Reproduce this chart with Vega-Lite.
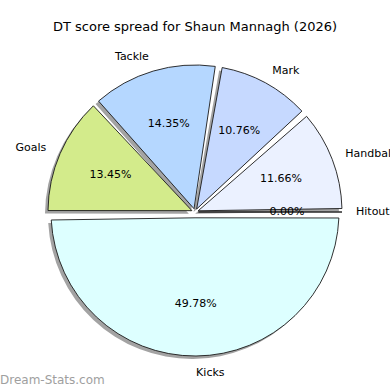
{
  "$schema": "https://vega.github.io/schema/vega-lite/v6.json",
  "autosize": "none",
  "width": 390,
  "height": 356,
  "padding": {"top": 34, "left": 0, "right": 0, "bottom": 0},
  "background": "white",
  "view": {"stroke": null},
  "title": {
    "text": "DT score spread for Shaun Mannagh (2026)",
    "font": "DejaVu Sans",
    "fontSize": 13,
    "fontWeight": "normal",
    "color": "black",
    "anchor": "middle",
    "baseline": "alphabetic",
    "offset": -10
  },
  "data": {
    "values": [
      {"idx": 0, "category": "Hitout", "value": 0.0, "pct": "0.00%"},
      {"idx": 1, "category": "Handball", "value": 11.66, "pct": "11.66%"},
      {"idx": 2, "category": "Mark", "value": 10.76, "pct": "10.76%"},
      {"idx": 3, "category": "Tackle", "value": 14.35, "pct": "14.35%"},
      {"idx": 4, "category": "Goals", "value": 13.45, "pct": "13.45%"},
      {"idx": 5, "category": "Kicks", "value": 49.78, "pct": "49.78%"}
    ]
  },
  "layer": [
    {
      "encoding": {
        "theta": {"field": "value", "type": "quantitative", "stack": true, "scale": {"range": [1.5708, -4.7124]}},
        "order": {"field": "idx", "type": "quantitative"},
        "detail": {"field": "category", "type": "nominal"}
      },
      "layer": [
        {
          "mark": {"type": "arc", "radius": 147, "innerRadius": 3.4, "padAngle": 0.0476, "xOffset": -3, "yOffset": 3, "fill": "#a3a3a3", "stroke": null},
          "encoding": {
            "opacity": {"condition": {"test": "datum.category !== 'Kicks'", "value": 1}, "value": 0}
          }
        },
        {
          "mark": {"type": "arc", "radius": 144, "innerRadius": 5.8, "padAngle": 0.0833, "xOffset": -3, "yOffset": 3, "fill": "#a3a3a3", "stroke": null},
          "encoding": {
            "opacity": {"condition": {"test": "datum.category === 'Kicks'", "value": 1}, "value": 0}
          }
        },
        {
          "mark": {"type": "arc", "radius": 147, "innerRadius": 3.4, "padAngle": 0.0476, "stroke": "#1a1a1a", "strokeWidth": 0.9},
          "encoding": {
            "color": {"field": "category", "type": "nominal", "legend": null,
              "scale": {"domain": ["Hitout", "Handball", "Mark", "Tackle", "Goals", "Kicks"],
                        "range": ["#f4f4f4", "#ebf1ff", "#c6d9ff", "#b5d7ff", "#d3eb8b", "#ddffff"]}},
            "opacity": {"condition": {"test": "datum.category !== 'Kicks'", "value": 1}, "value": 0}
          }
        },
        {
          "mark": {"type": "arc", "radius": 144, "innerRadius": 5.8, "padAngle": 0.0833, "stroke": "#1a1a1a", "strokeWidth": 0.9},
          "encoding": {
            "color": {"field": "category", "type": "nominal", "legend": null},
            "opacity": {"condition": {"test": "datum.category === 'Kicks'", "value": 1}, "value": 0}
          }
        },
        {
          "mark": {"type": "text", "radius": 92, "font": "DejaVu Sans", "fontSize": 11, "color": "black", "align": "center", "baseline": "middle"},
          "encoding": {"text": {"field": "pct"}}
        },
        {
          "mark": {"type": "text", "radius": 162, "font": "DejaVu Sans", "fontSize": 11, "color": "black", "align": "right", "baseline": "middle"},
          "encoding": {
            "text": {"field": "category"},
            "opacity": {"condition": {"test": "datum.category === 'Goals' || datum.category === 'Tackle'", "value": 1}, "value": 0}
          }
        },
        {
          "mark": {"type": "text", "radius": 161, "font": "DejaVu Sans", "fontSize": 11, "color": "black", "align": "left", "baseline": "middle"},
          "encoding": {
            "text": {"field": "category"},
            "opacity": {"condition": {"test": "datum.category === 'Goals' || datum.category === 'Tackle'", "value": 0}, "value": 1}
          }
        }
      ]
    },
    {
      "data": {"values": [{"mark": "Dream-Stats.com"}]},
      "mark": {"type": "text", "font": "DejaVu Sans", "fontSize": 12, "color": "#888888", "opacity": 0.8, "align": "left", "baseline": "alphabetic", "dy": -6},
      "encoding": {
        "x": {"value": 0},
        "y": {"value": "height"},
        "text": {"field": "mark"}
      }
    }
  ]
}
